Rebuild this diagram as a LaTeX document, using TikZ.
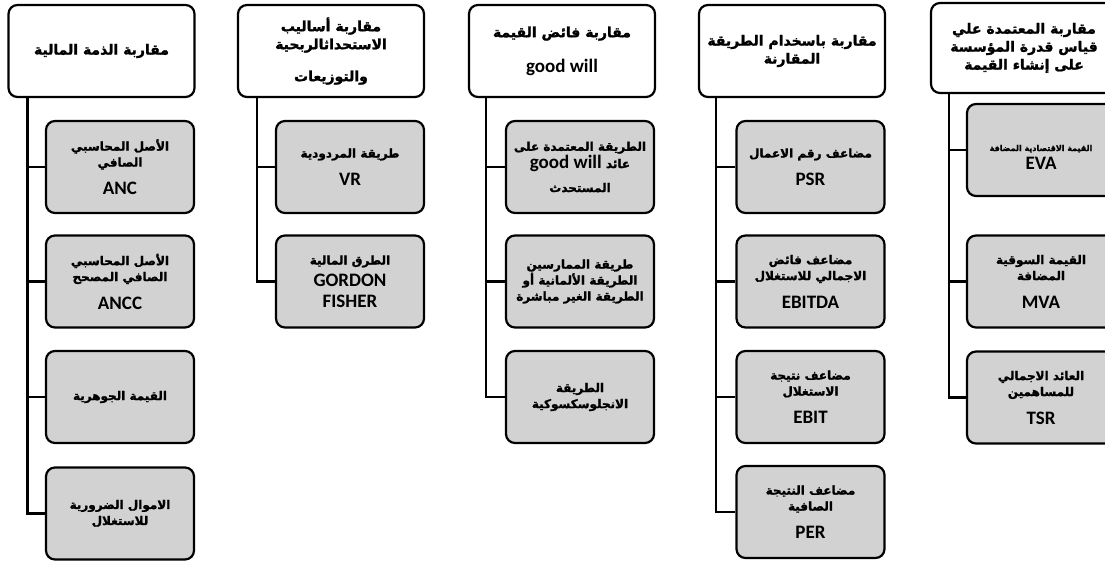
\documentclass[tikz,border=0pt]{standalone}
\usepackage{fontspec}
\setmainfont{Carlito}
\newfontfamily\arb[Script=Arabic, FakeBold=1.6]{DejaVu Sans Bold}
\TeXXeTstate=1
\newcommand\AR[1]{\beginR #1\endR}
\newcommand\LT[1]{{\rmfamily\bfseries\fontsize{19}{22}\selectfont #1}}
\begin{document}
\begin{tikzpicture}[x=1pt,y=-1pt,
  box/.style={draw, line width=2.2pt, rounded corners=9pt, inner sep=0pt, align=center},
  hdr/.style={box, fill=white, minimum width=186pt, minimum height=92pt,
    font=\arb\fontsize{14}{18}\selectfont},
  kid/.style={box, fill=gray!35, minimum width=148pt, minimum height=92pt,
    font=\arb\fontsize{12}{16}\selectfont},
  conn/.style={line width=2.2pt}]
\useasboundingbox (0,0) rectangle (1105,563);
\clip (0,0) rectangle (1105,563);

% column 1
\node[hdr] (h1) at (101.5,51) {\AR{مقاربة الذمة المالية}};
\node[kid] (c11) at (120,167) {\AR{الأصل المحاسبي}\\\AR{الصافي}\\[12pt]\LT{ANC}};
\node[kid] (c12) at (120,281.5) {\AR{الأصل المحاسبي}\\\AR{الصافي المصحح}\\[12pt]\LT{ANCC}};
\node[kid] (c13) at (120,397) {\AR{القيمة الجوهرية}};
\node[kid] (c14) at (120,513.5) {\AR{الاموال الضرورية}\\\AR{للاستغلال}};
\foreach \c in {c11,c12,c13,c14}
  \draw[conn] ([xshift=20pt]h1.south west) |- (\c.west);

% column 2
\node[hdr] (h2) at (331,51) {\AR{مقاربة أساليب}\\\AR{الاستحداثالربحية}\\[14pt]\AR{والتوزيعات}};
\node[kid] (c21) at (350,167) {\AR{طريقة المردودية}\\[12pt]\LT{VR}};
\node[kid] (c22) at (350,281.5) {\AR{الطرق المالية}\\[6pt]\LT{GORDON}\\[5pt]\LT{FISHER}};
\foreach \c in {c21,c22}
  \draw[conn] ([xshift=20pt]h2.south west) |- (\c.west);

% column 3
\node[hdr] (h3) at (562,51) {\AR{مقاربة فائض القيمة}\\[17pt]\LT{good will}};
\node[kid] (c31) at (580,167) {\AR{الطريقة المعتمدة على}\\\AR{عائد \beginL\LT{good will}\endL}\\[8pt]\AR{المستحدث}};
\node[kid] (c32) at (580,281.5) {\AR{طريقة الممارسين}\\\AR{الطريقة الألمانية أو}\\\AR{الطريقة الغير مباشرة}};
\node[kid] (c33) at (580,397) {\AR{الطريقة}\\\AR{الانجلوسكسوكية}};
\foreach \c in {c31,c32,c33}
  \draw[conn] ([xshift=18pt]h3.south west) |- (\c.west);

% column 4
\node[hdr] (h4) at (792,51) {\AR{مقاربة باسخدام الطريقة}\\\AR{المقارنة}};
\node[kid] (c41) at (810.5,167) {\AR{مضاعف رقم الاعمال}\\[12pt]\LT{PSR}};
\node[kid] (c42) at (810.5,281.5) {\AR{مضاعف فائض}\\\AR{الاجمالي للاستغلال}\\[12pt]\LT{EBITDA}};
\node[kid] (c43) at (810.5,397) {\AR{مضاعف نتيجة}\\\AR{الاستغلال}\\[12pt]\LT{EBIT}};
\node[kid] (c44) at (810.5,512) {\AR{مضاعف النتيجة}\\\AR{الصافية}\\[12pt]\LT{PER}};
\foreach \c in {c41,c42,c43,c44}
  \draw[conn] ([xshift=18pt]h4.south west) |- (\c.west);

% column 5
\node[hdr, minimum height=90pt] (h5) at (1024,48) {\AR{مقاربة المعتمدة علي}\\\AR{قياس قدرة المؤسسة}\\\AR{على إنشاء القيمة}};
\node[kid] (c51) at (1041,150) {{\fontsize{8}{11}\selectfont\rule{0pt}{20pt}\AR{القيمة الاقتصادية المضافة}}\\[2pt]\LT{EVA}};
\node[kid] (c52) at (1041,281.5) {\AR{القيمة السوقية}\\\AR{المضافة}\\[12pt]\LT{MVA}};
\node[kid] (c53) at (1041,397.5) {\AR{العائد الاجمالي}\\\AR{للمساهمين}\\[12pt]\LT{TSR}};
\foreach \c in {c51,c52,c53}
  \draw[conn] ([xshift=19pt]h5.south west) |- (\c.west);
\end{tikzpicture}
\end{document}
